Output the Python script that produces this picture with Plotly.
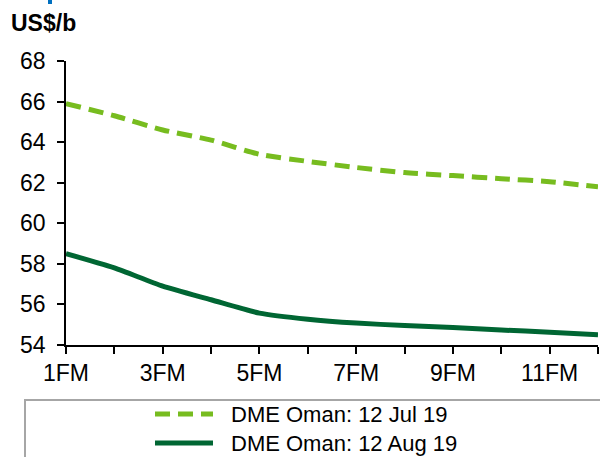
import plotly.graph_objects as go

categories = ["1FM", "2FM", "3FM", "4FM", "5FM", "6FM", "7FM", "8FM", "9FM", "10FM", "11FM", "12FM"]
tick_labels = ["1FM", "", "3FM", "", "5FM", "", "7FM", "", "9FM", "", "11FM", ""]
jul_values = [65.9, 65.3, 64.6, 64.1, 63.4, 63.05, 62.75, 62.5, 62.35, 62.2, 62.05, 61.8]
aug_values = [58.5, 57.8, 56.9, 56.23, 55.57, 55.27, 55.08, 54.96, 54.86, 54.74, 54.63, 54.5]
series_names = ["DME Oman: 12 Jul 19", "DME Oman: 12 Aug 19"]
y_ticks = [54, 56, 58, 60, 62, 64, 66, 68]

x_pos = list(range(1, len(categories) + 1))
FONT = "Liberation Sans, Arial, sans-serif"
JUL_COLOR = "#77BC1F"
AUG_COLOR = "#006633"
JUL_DASH = "15px,8px"

# plot area geometry (px) used for converting decorative positions to paper coords
L, R, T, B = 66, 598, 61, 345
W, H = R - L, B - T


def px(xp):
    return (xp - L) / W


def py(yp):
    return (B - yp) / H


fig = go.Figure()
fig.add_trace(go.Scatter(
    x=x_pos, y=jul_values, name=series_names[0], mode="lines",
    line=dict(color=JUL_COLOR, width=5, dash=JUL_DASH, shape="spline", smoothing=0.6),
))
fig.add_trace(go.Scatter(
    x=x_pos, y=aug_values, name=series_names[1], mode="lines",
    line=dict(color=AUG_COLOR, width=5, shape="spline", smoothing=0.6),
))

axis_common = dict(
    showgrid=False, zeroline=False, showline=True, linecolor="black", linewidth=1.5,
    ticks="outside", ticklen=7, tickwidth=1.5, tickcolor="black",
    tickfont=dict(family=FONT, size=23, color="black"), automargin=False,
)

legend_rows = [(414, JUL_COLOR, JUL_DASH), (443, AUG_COLOR, "solid")]
shapes = [
    dict(type="rect", xref="paper", yref="paper", x0=px(25), x1=px(640), y0=py(400), y1=py(520),
         line=dict(color="#A6A6A6", width=2), fillcolor="rgba(0,0,0,0)", layer="below"),
    dict(type="rect", xref="paper", yref="paper", x0=px(48), x1=px(52), y0=py(4), y1=py(-2),
         line=dict(width=0), fillcolor="#0070C0"),
]
annotations = [dict(
    text="<b>US$/b</b>", xref="paper", yref="paper", x=px(9), y=py(23),
    xanchor="left", yanchor="middle", showarrow=False,
    font=dict(family=FONT, size=23, color="black"),
)]
for (row_y, color, dash), name in zip(legend_rows, series_names):
    shapes.append(dict(type="line", xref="paper", yref="paper", x0=px(155), x1=px(213),
                       y0=py(row_y), y1=py(row_y), line=dict(color=color, width=5, dash=dash)))
    annotations.append(dict(text=name, xref="paper", yref="paper", x=px(229), y=py(row_y),
                            xanchor="left", yanchor="middle", showarrow=False,
                            font=dict(family=FONT, size=22, color="black")))

fig.update_layout(
    width=600, height=457,
    margin=dict(l=L, r=600 - R, t=T, b=457 - B),
    paper_bgcolor="white", plot_bgcolor="white",
    font=dict(family=FONT, size=23, color="black"),
    showlegend=False,
    xaxis=dict(range=[1, 12], tickmode="array", tickvals=x_pos, ticktext=tick_labels, **axis_common),
    yaxis=dict(range=[54, 68], tickmode="array", tickvals=y_ticks, ticklabelstandoff=7, **axis_common),
    annotations=annotations,
    shapes=shapes,
)

fig.write_html(
    "out.html",
    config={"displayModeBar": False},
    post_script="document.body.style.margin='0';document.body.style.overflow='hidden';",
)
